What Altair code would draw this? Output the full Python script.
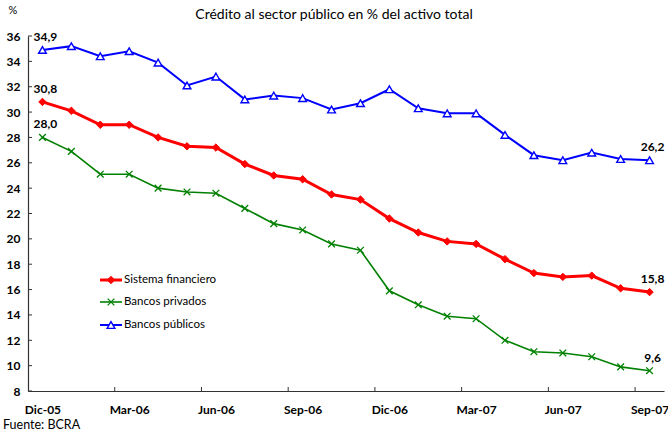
import json
import altair as alt
import pandas as pd

FONT = "Lato"

months = ["Dic-05", "Ene-06", "Feb-06", "Mar-06", "Abr-06", "May-06", "Jun-06",
          "Jul-06", "Ago-06", "Sep-06", "Oct-06", "Nov-06", "Dic-06", "Ene-07",
          "Feb-07", "Mar-07", "Abr-07", "May-07", "Jun-07", "Jul-07", "Ago-07", "Sep-07"]
sistema = [30.8, 30.1, 29.0, 29.0, 28.0, 27.3, 27.2, 25.9, 25.0, 24.7, 23.5,
           23.1, 21.6, 20.5, 19.8, 19.6, 18.4, 17.3, 17.0, 17.1, 16.1, 15.8]
privados = [28.0, 26.9, 25.1, 25.1, 24.0, 23.7, 23.6, 22.4, 21.2, 20.7, 19.6,
            19.1, 15.9, 14.8, 13.9, 13.7, 12.0, 11.1, 11.0, 10.7, 9.9, 9.6]
publicos = [34.9, 35.2, 34.4, 34.8, 33.9, 32.1, 32.8, 31.0, 31.3, 31.1, 30.2,
            30.7, 31.8, 30.3, 29.9, 29.9, 28.2, 26.6, 26.2, 26.8, 26.3, 26.2]
series_names = ["Sistema financiero", "Bancos privados", "Bancos públicos"]
y_ticks = list(range(8, 37, 2))
x_label_idx = list(range(0, 22, 3))
x_tick_pos = [i + 2.5 for i in range(0, 21, 3)]

W, H = 636, 355
series_vals = [sistema, privados, publicos]
styles = [
    dict(color="#ff0000", width=3.0, shape="diamond", size=55, filled=True, fill="#ff0000", sw=1),
    dict(color="#008000", width=1.6, shape="M-1,-1L1,1M-1,1L1,-1", size=45, filled=False, fill=None, sw=1.3),
    dict(color="#0000ff", width=2.0, shape="triangle-up", size=60, filled=True, fill="white", sw=1.4),
]

xscale = alt.Scale(domain=[-0.5, 21.5], nice=False, zero=False)
yscale = alt.Scale(domain=[8, 36], nice=False, zero=False)

x_axis = alt.Axis(values=x_label_idx, labelExpr=f"{json.dumps(months)}[datum.value]",
                  ticks=False, grid=False, title=None, labelFont=FONT, labelFontWeight="bold",
                  labelFontSize=12, labelColor="black", labelPadding=13, domainColor="#333333",
                  domainWidth=1.2, labelFlush=False, labelOverlap=False)
y_axis = alt.Axis(values=y_ticks, ticks=False, grid=False, title=None, labelFont=FONT,
                  labelFontWeight="bold", labelFontSize=12, labelColor="black", labelPadding=8,
                  domainColor="#333333", domainWidth=1.2, labelOverlap=False, labelFlush=False)


def X(field):
    return alt.X(field, scale=xscale, axis=x_axis)


def Y(field):
    return alt.Y(field, scale=yscale, axis=y_axis)


layers = []
for name, vals, st in zip(series_names, series_vals, styles):
    df = pd.DataFrame({"idx": list(range(len(vals))), "v": vals})
    line = alt.Chart(df).mark_line(color=st["color"], strokeWidth=st["width"]).encode(
        x=X("idx:Q"), y=Y("v:Q"))
    pkw = dict(shape=st["shape"], size=st["size"], filled=st["filled"], stroke=st["color"],
               strokeWidth=st["sw"], opacity=1)
    if st["fill"]:
        pkw["fill"] = st["fill"]
    pts = alt.Chart(df).mark_point(**pkw).encode(x=X("idx:Q"), y=Y("v:Q"))
    layers += [line, pts]

# end labels
lab_rows = []
for vals in series_vals:
    for i in (0, len(vals) - 1):
        lab_rows.append({"idx": i, "v": vals[i], "t": f"{vals[i]:.1f}".replace(".", ",")})
lab_df = pd.DataFrame(lab_rows)
labels = alt.Chart(lab_df).mark_text(font=FONT, fontSize=12, fontWeight="bold", color="black",
                                     dx=3, dy=-13).encode(x=X("idx:Q"), y=Y("v:Q"), text="t:N")
layers.append(labels)

# inward ticks
ytk = alt.Chart(pd.DataFrame({"v": y_ticks})).mark_rule(color="#333333", strokeWidth=1).encode(
    y=Y("v:Q"), x=alt.value(0), x2=alt.value(4))
xtk = alt.Chart(pd.DataFrame({"v": x_tick_pos})).mark_rule(color="#333333", strokeWidth=1).encode(
    x=X("v:Q"), y=alt.value(H), y2=alt.value(H - 4))
layers += [ytk, xtk]

# legend
one = pd.DataFrame({"a": [0]})
leg_y = [244, 266, 289]
for name, st, ly in zip(series_names, styles, leg_y):
    layers.append(alt.Chart(one).mark_rule(color=st["color"], strokeWidth=st["width"]).encode(
        x=alt.value(72), x2=alt.value(94), y=alt.value(ly)))
    pkw = dict(shape=st["shape"], size=st["size"], filled=st["filled"], stroke=st["color"],
               strokeWidth=st["sw"], opacity=1)
    if st["fill"]:
        pkw["fill"] = st["fill"]
    layers.append(alt.Chart(one).mark_point(**pkw).encode(x=alt.value(83), y=alt.value(ly)))
    layers.append(alt.Chart(one).mark_text(font=FONT, fontSize=11.5, align="left", baseline="middle",
                                           color="black").encode(
        x=alt.value(96), y=alt.value(ly), text=alt.value(name)))

# annotations
title = "Crédito al sector público en % del activo total"
layers.append(alt.Chart(one).mark_text(font=FONT, fontSize=14, align="center", baseline="middle",
                                       color="black").encode(
    x=alt.value(306), y=alt.value(-21), text=alt.value(title)))
layers.append(alt.Chart(one).mark_text(font=FONT, fontSize=11, align="center", baseline="middle",
                                       color="black").encode(
    x=alt.value(-15), y=alt.value(-25), text=alt.value("%")))
layers.append(alt.Chart(one).mark_text(font=FONT, fontSize=12.5, align="left", baseline="middle",
                                       color="black").encode(
    x=alt.value(-25), y=alt.value(389), text=alt.value("Fuente: BCRA")))

chart = alt.layer(*layers).properties(
    width=W, height=H,
    autosize=alt.AutoSizeParams(type="none"),
    padding={"left": 28, "top": 36, "right": 4, "bottom": 41},
    background="white",
).configure_view(stroke=None)

chart.save("out.html", embed_options={"renderer": "svg", "actions": False})
